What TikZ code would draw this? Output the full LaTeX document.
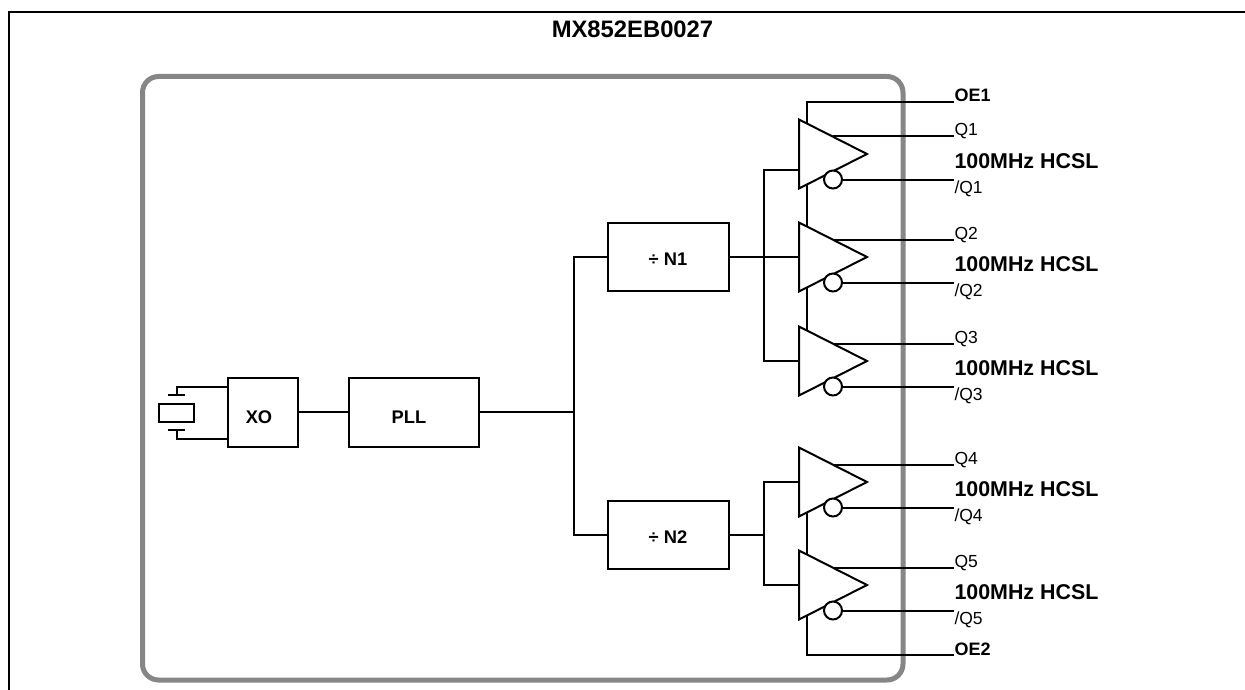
\documentclass[tikz,border=0pt]{standalone}
\usepackage{fontspec}
\setmainfont{Liberation Sans}
\usetikzlibrary{shapes.geometric,calc}
\newcommand{\pxfont}[1]{\fontsize{#1}{#1}\selectfont}
\tikzset{
  x=1pt,y=-1pt,
  wire/.style={draw=black,line width=2pt},
  blockbox/.style={draw=black,line width=2pt,inner sep=0pt,outer sep=0pt,font=\pxfont{18.3}\bfseries},
  blocktxt/.style={inner sep=0pt,outer sep=0pt,font=\pxfont{18.3}\bfseries},
  buf/.style={isosceles triangle,isosceles triangle stretches,shape border rotate=0,draw=black,line width=2pt,
    minimum width=69pt,minimum height=68pt,inner sep=0pt,outer sep=0pt,anchor=apex,line join=miter},
  inv/.style={circle,draw=black,line width=2pt,fill=white,minimum size=18pt,inner sep=0pt,outer sep=0pt},
  sig/.style={inner sep=0pt,outer sep=0pt,anchor=base west,font=\pxfont{17.5}},
  oelab/.style={inner sep=0pt,outer sep=0pt,anchor=base west,font=\pxfont{18}\bfseries},
  freq/.style={inner sep=0pt,outer sep=0pt,anchor=base west,font=\pxfont{21.4}\bfseries},
  ttl/.style={inner sep=0pt,outer sep=0pt,anchor=base,font=\pxfont{23.8}\bfseries},
  chip/.style={draw=chipgray,line width=5pt,rounded corners=16pt},
}
\definecolor{chipgray}{HTML}{868686}
\begin{document}
\begin{tikzpicture}
\useasboundingbox (0,0) rectangle (1245,690);
% outer frame
\coordinate (frameTL) at (9,12);
\coordinate (frameTR) at (1245,12);
\coordinate (frameBL) at (9,690);
\draw[wire] (frameBL) -- (frameTL) -- (frameTR);
\node[ttl] (title) at (632.5,37.5) {MX852EB0027};
% chip outline
\draw[chip] (142.5,76.5) rectangle (903,680);
% blocks
\node[blockbox,minimum width=70pt,minimum height=69pt] (xo) at (263,412.5) {};
\node[blocktxt] (xotxt) at (259,417) {XO};
\node[blockbox,minimum width=130pt,minimum height=69pt] (pll) at (414,412.5) {};
\node[blocktxt] (plltxt) at (409,417) {PLL};
\node[blockbox,minimum width=121pt,minimum height=68pt] (n1) at (668.5,257) {};
\node[blocktxt] (n1txt) at (668,259) {÷ N1};
\node[blockbox,minimum width=121pt,minimum height=68pt] (n2) at (668.5,535) {};
\node[blocktxt] (n2txt) at (668,537) {÷ N2};
% crystal
\node[draw=black,line width=2pt,minimum width=35pt,minimum height=18pt,inner sep=0pt,outer sep=0pt] (xtal) at (176.5,413) {};
\coordinate (plateUL) at (168,395); \coordinate (plateUR) at (185,395); \coordinate (plateUM) at (177,395);
\coordinate (plateLL) at (168,430); \coordinate (plateLR) at (185,430); \coordinate (plateLM) at (177,430);
\draw[wire] (plateUL) -- (plateUR);
\draw[wire] (plateLL) -- (plateLR);
\draw[wire] (plateUM) |- (xo.west |- 0,387);
\draw[wire] (plateLM) |- (xo.west |- 0,439);
% main path
\coordinate (jct) at (574,412);
\draw[wire] (xo.east |- 0,412) -- (pll.west |- 0,412);
\draw[wire] (pll.east |- jct) -- (jct);
\draw[wire] (n1.west) -| (jct) |- (n2.west);
% buffers
\foreach \i/\ay in {1/154,2/257,3/361,4/482,5/585}{
  \node[buf] (b\i) at (867,\ay) {};
  \coordinate (qend\i) at (954,\ay-17.5);
  \coordinate (nqend\i) at (954,\ay+25.5);
  \coordinate (qstart\i) at (833,\ay-17.5);
  \node[inv] (inv\i) at (833,\ay+25.5) {};
  \draw[wire] (qstart\i) -- (qend\i);
  \draw[wire] (inv\i.east) -- (nqend\i);
  \node[sig] (q\i) at (954.5,\ay-18) {Q\i};
  \node[freq] (f\i) at (954.5,\ay+14) {100MHz HCSL};
  \node[sig] (nq\i) at (954.5,\ay+39.5) {/Q\i};
}
% input buses
\coordinate (busA1) at (764,170);
\coordinate (busA3) at (764,361);
\draw[wire] (799,170) -- (busA1) -- (busA3) -- (799,361);
\draw[wire] (n1.east) -- (799,257);
\coordinate (busB1) at (764,482);
\coordinate (busB2) at (764,585);
\draw[wire] (799,482) -- (busB1) -- (busB2) -- (799,585);
\draw[wire] (n2.east) -- (764,535);
% enables
\node[oelab] (oe1) at (954.5,102) {OE1};
\node[oelab] (oe2) at (954.5,655) {OE2};
\draw[wire] (807,124) -- (807,102) -- (954,102);
\draw[wire] (807,184) -- (807,227);
\draw[wire] (807,288) -- (807,331);
\draw[wire] (807,512) -- (807,555);
\draw[wire] (807,616) -- (807,655) -- (954,655);
\end{tikzpicture}
\end{document}
